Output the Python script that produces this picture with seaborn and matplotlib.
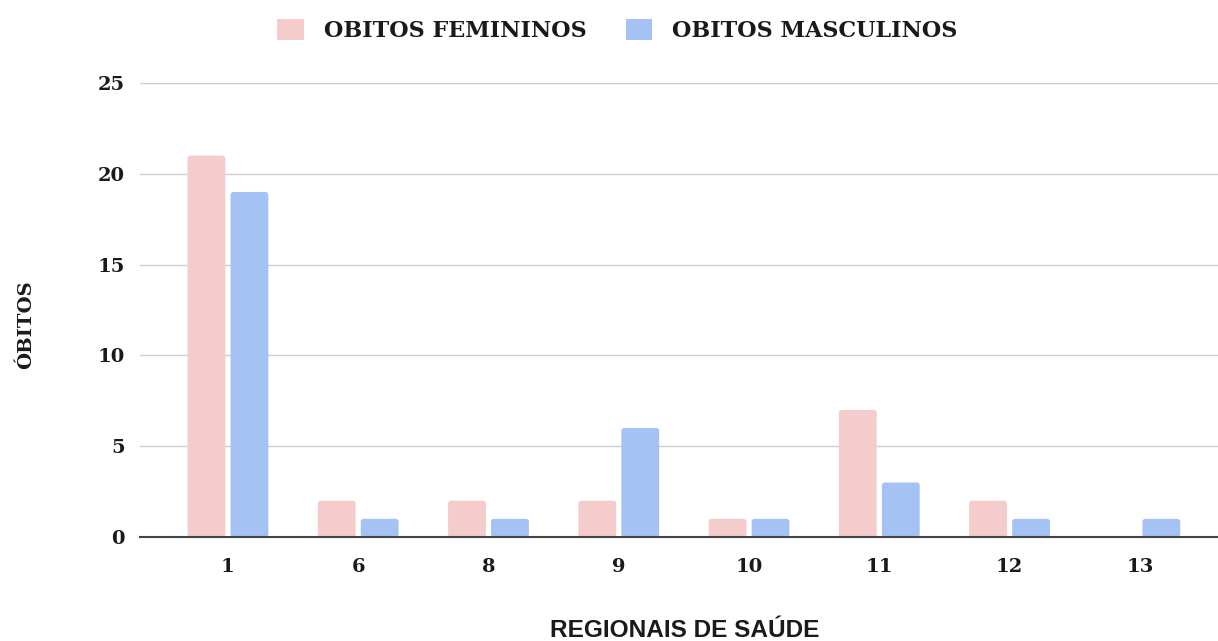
import pandas as pd
import seaborn as sns
import matplotlib.pyplot as plt
from matplotlib.patches import FancyBboxPatch

regionais = ["1", "6", "8", "9", "10", "11", "12", "13"]
obitos_femininos = [21, 2, 2, 2, 1, 7, 2, 0]
obitos_masculinos = [19, 1, 1, 6, 1, 3, 1, 1]
series_names = ["OBITOS FEMININOS", "OBITOS MASCULINOS"]
cores = ["#f4cccc", "#a4c2f4"]

df = pd.DataFrame({
    "regional": regionais * 2,
    "obitos": obitos_femininos + obitos_masculinos,
    "serie": [series_names[0]] * len(regionais) + [series_names[1]] * len(regionais),
})

sns.set_style("white")
plt.rcParams['font.family'] = ['DejaVu Serif', 'DejaVu Sans']

fig = plt.figure(figsize=(12.18, 6.41), dpi=100)
ax = fig.add_axes([140 / 1218, 104 / 641, 1 - 140 / 1218, 454 / 641])

sns.barplot(data=df, x="regional", y="obitos", hue="serie", order=regionais,
            hue_order=series_names, palette=cores, width=0.66, gap=0.12,
            saturation=1, edgecolor="none", ax=ax)

ax.set_ylim(0, 25)
ax.set_yticks([0, 5, 10, 15, 20, 25])
ax.set_xlim(-0.675, 7.6)

# slightly rounded bar corners, like the original spreadsheet chart
for bar in list(ax.patches):
    h = bar.get_height()
    if h <= 0:
        continue
    rounded = FancyBboxPatch((bar.get_x(), bar.get_y()), bar.get_width(), h,
                             boxstyle="round,pad=0,rounding_size=0.022",
                             mutation_aspect=7.17, facecolor=bar.get_facecolor(),
                             edgecolor="none", zorder=bar.get_zorder())
    bar.set_visible(False)
    ax.add_patch(rounded)

ax.yaxis.grid(True, color="#cccccc", linewidth=1)
ax.set_axisbelow(True)
for s in ["top", "right", "left"]:
    ax.spines[s].set_visible(False)
ax.spines["bottom"].set_color("#444444")
ax.spines["bottom"].set_linewidth(1.5)
ax.spines["bottom"].set_zorder(3)
ax.tick_params(axis="both", length=0, labelsize=14, labelcolor="#1a1a1a")
ax.tick_params(axis="x", pad=15)
ax.tick_params(axis="y", pad=11)
for lab in ax.get_xticklabels() + ax.get_yticklabels():
    lab.set_fontweight("bold")

ax.set_xlabel("REGIONAIS DE SAÚDE", fontfamily="Liberation Sans", fontweight="bold",
              fontstretch="normal", fontsize=17.6, color="#1a1a1a")
ax.xaxis.set_label_coords(0.5056, -0.18)
ax.set_ylabel("ÓBITOS", fontweight="bold", fontsize=14, color="#1a1a1a")
ax.yaxis.set_label_coords(-0.097, 0.467)

handles, labels = ax.get_legend_handles_labels()
leg = ax.legend(handles, labels, loc="center", bbox_to_anchor=(0.443, 1.115), ncol=2,
                frameon=False, prop={"weight": "bold", "size": 16},
                handlelength=1.2, handleheight=1.08, columnspacing=1.75,
                handletextpad=0.9, borderaxespad=0, borderpad=0)
for t in leg.get_texts():
    t.set_color("#1a1a1a")

plt.savefig("out.png", dpi=100)
